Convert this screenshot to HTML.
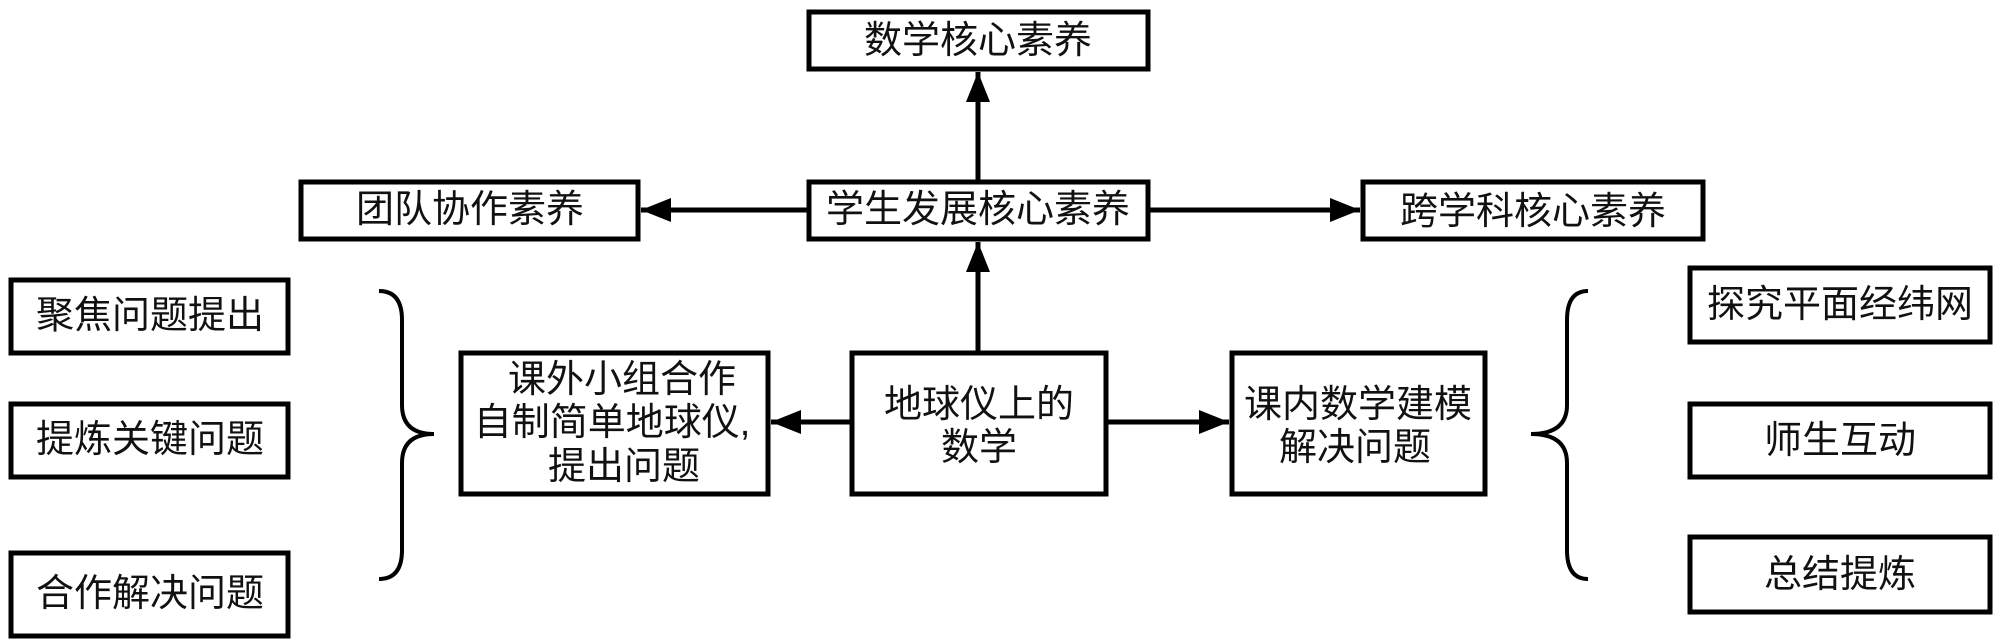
<!DOCTYPE html>
<html><head><meta charset="utf-8"><style>
html,body{margin:0;padding:0;background:#fff;}
svg{display:block;}
text{font-family:"Liberation Sans","Noto Sans CJK SC",sans-serif;font-size:38px;fill:#111;text-anchor:middle;dominant-baseline:central;}
</style></head><body>
<svg width="2000" height="642" viewBox="0 0 2000 642" xmlns="http://www.w3.org/2000/svg">
<defs><marker id="a" markerWidth="10" markerHeight="10" refX="9" refY="5" orient="auto" markerUnits="userSpaceOnUse" viewBox="0 0 10 10"><path d="M0,0 L10,5 L0,10 z" fill="#000"/></marker>
<marker id="ah" viewBox="0 0 30 24" refX="30" refY="12" markerWidth="30" markerHeight="24" orient="auto" markerUnits="userSpaceOnUse"><path d="M0,0 L30,12 L0,24 z" fill="#000"/></marker></defs>
<g fill="none" stroke="#000" stroke-width="5">
<rect x="809" y="12" width="339" height="57"/>
<rect x="301" y="182" width="337" height="57"/>
<rect x="809" y="182" width="339" height="57"/>
<rect x="1363" y="182" width="340" height="57"/>
<rect x="11" y="280" width="277" height="73"/>
<rect x="11" y="404" width="277" height="73"/>
<rect x="11" y="553" width="277" height="83"/>
<rect x="461" y="353" width="307" height="141"/>
<rect x="852" y="353" width="254" height="141"/>
<rect x="1232" y="353" width="253" height="141"/>
<rect x="1690" y="268" width="300" height="74"/>
<rect x="1690" y="404" width="300" height="73"/>
<rect x="1690" y="537" width="300" height="75"/>
<line x1="978" y1="180" x2="978" y2="72" marker-end="url(#ah)"/>
<line x1="978" y1="351" x2="978" y2="242" marker-end="url(#ah)"/>
<line x1="807" y1="210" x2="641" y2="210" marker-end="url(#ah)"/>
<line x1="1150" y1="210" x2="1360" y2="210" marker-end="url(#ah)"/>
<line x1="850" y1="422" x2="771" y2="422" marker-end="url(#ah)"/>
<line x1="1108" y1="422" x2="1229" y2="422" marker-end="url(#ah)"/>
<path d="M379,291 Q402,291 402,320 L402,405 Q402,434 434,434 Q402,434 402,463 L402,550 Q402,579 379,579" stroke-width="4"/>
<path d="M1588,291 Q1567,291 1567,320 L1567,405 Q1567,434 1531,434 Q1567,434 1567,463 L1567,550 Q1567,579 1588,579" stroke-width="4"/>
</g>
<text x="978" y="41">数学核心素养</text>
<text x="470" y="210">团队协作素养</text>
<text x="978" y="210">学生发展核心素养</text>
<text x="1533" y="212">跨学科核心素养</text>
<text x="150" y="316">聚焦问题提出</text>
<text x="150" y="440">提炼关键问题</text>
<text x="150" y="594">合作解决问题</text>
<text x="622" y="380">课外小组合作</text>
<text x="612" y="423">自制简单地球仪,</text>
<text x="624" y="467">提出问题</text>
<text x="979" y="405">地球仪上的</text>
<text x="979" y="448">数学</text>
<text x="1358" y="405">课内数学建模</text>
<text x="1355" y="448">解决问题</text>
<text x="1840" y="305">探究平面经纬网</text>
<text x="1840" y="441">师生互动</text>
<text x="1840" y="575">总结提炼</text>
</svg>
</body></html>
